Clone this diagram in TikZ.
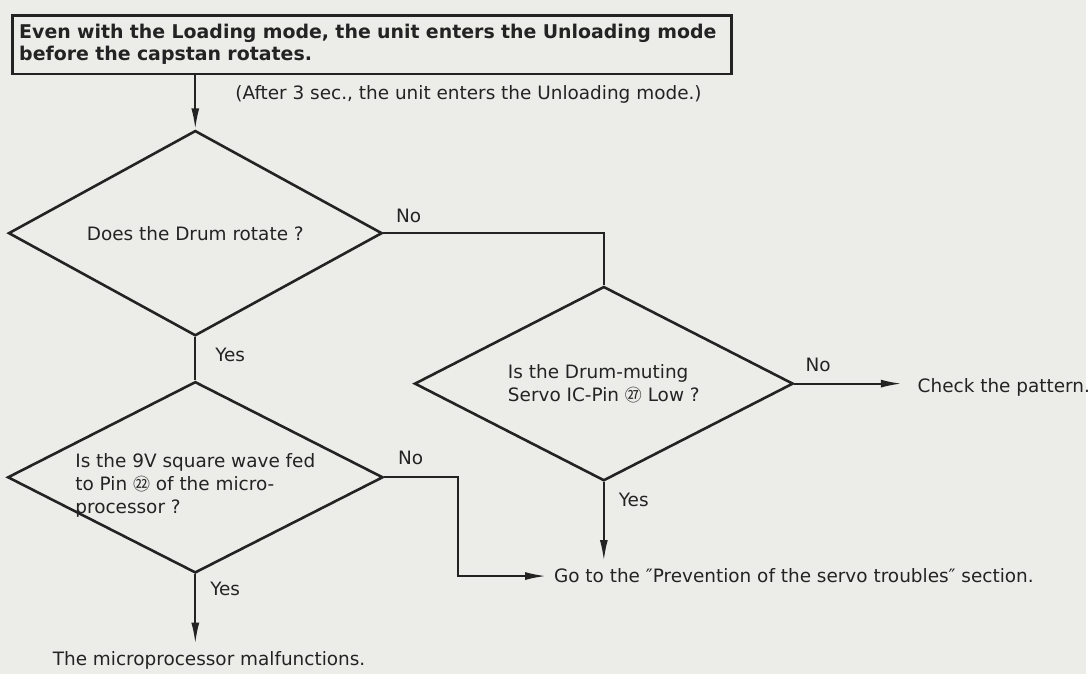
\documentclass[tikz,border=0pt]{standalone}
\usepackage{fontspec}
\setmainfont{DejaVu Sans}
\newfontfamily\cjk{Noto Sans CJK SC}
\usetikzlibrary{shapes.geometric,arrows.meta,positioning}

\definecolor{paper}{RGB}{236,236,233}
\definecolor{ink}{RGB}{35,35,35}

% circled pin numbers
\newcommand{\pinno}[1]{{\cjk\fontsize{17}{17}\selectfont #1}}

\begin{document}
\begin{tikzpicture}[
        x=1pt, y=-1pt,
        font=\fontsize{18.5}{23}\selectfont,
        every node/.style={text=ink},
        decision/.style={diamond, aspect=2, draw=ink, line width=2.6pt, inner sep=0pt, align=left},
        headbox/.style={rectangle, draw=ink, line width=2.6pt, align=left, text width=708pt, inner xsep=7pt,
            font=\fontsize{19}{22}\selectfont\bfseries},
        answer/.style={inner sep=0pt},
        result/.style={inner sep=0pt, outer sep=8pt, anchor=base west},
        line/.style={draw=ink, line width=2pt},
        arrow/.style={line, -{Latex[length=21pt, width=8pt]}}
    ]
    \fill[paper] (0,0) rectangle (1090,676);

    \node[headbox, anchor=north west, minimum height=59pt] (start) at (11,14)
        {Even with the Loading mode, the unit enters the Unloading mode\\before the capstan rotates.};
    \node[anchor=base west, inner sep=0pt] (note) at (236,100)
        {(After 3 sec., the unit enters the Unloading mode.)};

    \node[decision, minimum width=375pt, minimum height=206pt] (drum) at (196,234) {Does the Drum rotate ?};
    \node[decision, minimum width=380pt, minimum height=195pt] (muting) at (606,385)
        {Is the Drum-muting\\Servo IC-Pin \pinno{㉗} Low ?};
    % text sits a little below the middle here
    \node[decision, minimum width=376pt, minimum height=192pt, text height=72pt, text depth=0pt, inner xsep=-4pt]
        (square) at (196,479)
        {Is the 9V square wave fed\\to Pin \pinno{㉒} of the micro-\\processor ?};

    \node[result] (check) at (913,394) {Check the pattern.};
    \node[result] (servo) at (548,585) {Go to the ″Prevention of the servo troubles″ section.};
    \node[result] (micro) at (45,668) {The microprocessor malfunctions.};

    % yes / no answers
    \node[answer] (drumno) at (410,217) {No};
    \node[answer] (drumyes) at (231,356) {Yes};
    \node[answer] (mutingno) at (821,366) {No};
    \node[answer] (mutingyes) at (636,502) {Yes};
    \node[answer] (squareno) at (412,460) {No};
    \node[answer] (squareyes) at (226,591) {Yes};

    \draw[arrow] (drum.north |- start.south) -- (drum.north);
    \draw[line] (drum.east) -| (muting.north);
    \draw[line] (drum.south) -- (square.north);
    \draw[arrow, shorten >=8pt] (muting.east) -- (muting.east -| check.west);
    \draw[arrow] (muting.south) -- (muting.south |- servo.north);
    \draw[arrow] (square.east) -- ++(74,0) |- (servo.west);
    \draw[arrow] (square.south) -- (square.south |- micro.north);
\end{tikzpicture}
\end{document}
